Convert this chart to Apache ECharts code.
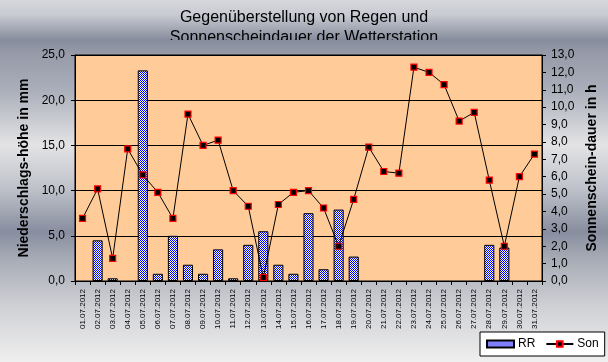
<!DOCTYPE html>
<html>
<head>
<meta charset="utf-8">
<script src="https://cdn.jsdelivr.net/npm/echarts@6/dist/echarts.min.js"></script>
<style>html,body{margin:0;padding:0;}#c{width:608px;height:362px;}</style>
</head>
<body>
<div id="c"></div>
<script>
const categories = ["01.07.2012","02.07.2012","03.07.2012","04.07.2012","05.07.2012","06.07.2012","07.07.2012","08.07.2012","09.07.2012","10.07.2012","11.07.2012","12.07.2012","13.07.2012","14.07.2012","15.07.2012","16.07.2012","17.07.2012","18.07.2012","19.07.2012","20.07.2012","21.07.2012","22.07.2012","23.07.2012","24.07.2012","25.07.2012","26.07.2012","27.07.2012","28.07.2012","29.07.2012","30.07.2012","31.07.2012"];
const rainMm = [0, 4.5, 0.3, 0, 23.3, 0.8, 5.0, 1.8, 0.8, 3.5, 0.3, 4.0, 5.5, 1.8, 0.8, 7.5, 1.3, 7.9, 2.7, 0, 0, 0, 0, 0, 0, 0, 0, 4.0, 3.7, 0, 0];
const sunHours = [3.6, 5.3, 1.3, 7.6, 6.1, 5.1, 3.6, 9.6, 7.8, 8.1, 5.2, 4.3, 0.2, 4.4, 5.1, 5.2, 4.2, 2.0, 4.7, 7.7, 6.3, 6.2, 12.3, 12.0, 11.3, 9.2, 9.7, 5.8, 2.0, 6.0, 7.3];
const seriesNames = ["RR", "Son"];
const titleLines = ["Gegenüberstellung von Regen und", "Sonnenscheindauer der Wetterstation"];
const leftAxisName = "Niederschlags-höhe in mm";
const rightAxisName = "Sonnenschein-dauer in h";

const bgStops = [
  {offset: 0.00, color: '#d6d7dc'},
  {offset: 0.04, color: '#c9cbd2'},
  {offset: 0.11, color: '#878d9d'},
  {offset: 0.15, color: '#979ba9'},
  {offset: 0.25, color: '#abafba'},
  {offset: 0.40, color: '#e3e3e5'},
  {offset: 0.52, color: '#bfc2ca'},
  {offset: 0.64, color: '#888e9f'},
  {offset: 0.72, color: '#a9adb7'},
  {offset: 0.85, color: '#d0d1d5'},
  {offset: 1.00, color: '#efefef'}
];

// checker pattern for bars
const pc = document.createElement('canvas');
pc.width = 2; pc.height = 2;
const pctx = pc.getContext('2d');
pctx.fillStyle = '#ffffff'; pctx.fillRect(0,0,2,2);
pctx.fillStyle = '#0000ff'; pctx.fillRect(0,0,1,1); pctx.fillRect(1,1,1,1);
const checker = {image: pc, repeat: 'repeat'};

const fmt = v => v.toFixed(1).replace('.', ',');

const chart = echarts.init(document.getElementById('c'), null, {renderer: 'canvas'});
chart.setOption({
  animation: false,
  title: {
    text: titleLines.join('\n'),
    left: 'center',
    top: 8,
    padding: 0,
    textStyle: {fontFamily: 'Liberation Sans, Arial', fontSize: 16, fontWeight: 'normal', color: '#000', lineHeight: 20}
  },
  graphic: [
    {type: 'rect', silent: true, z: -100, shape: {x: 0, y: 0, width: 608, height: 362},
     style: {fill: {type: 'linear', x: 0, y: 0, x2: 0, y2: 1, colorStops: bgStops}}},
    {type: 'rect', silent: true, z: 100, shape: {x: 0, y: 40, width: 608, height: 7},
     style: {fill: {type: 'linear', x: 0, y: 0, x2: 0, y2: 362, global: true, colorStops: bgStops}}}
  ],
  grid: {left: 75, right: 66, top: 55, bottom: 81, show: true, backgroundColor: '#ffcc99', borderColor: '#000', borderWidth: 1},
  legend: {
    left: 480, top: 332,
    padding: [6, 6],
    itemGap: 10,
    itemWidth: 27, itemHeight: 7,
    backgroundColor: '#fff', borderColor: '#000', borderWidth: 1, borderRadius: 0,
    textStyle: {fontFamily: 'Liberation Sans, Arial', fontSize: 12, color: '#000', padding: [0,0,0,-1]},
    data: [{name: seriesNames[0], icon: 'rect'}, {name: seriesNames[1]}]
  },
  xAxis: {
    type: 'category',
    data: categories,
    boundaryGap: true,
    axisLine: {lineStyle: {color: '#000', width: 1}},
    axisTick: {show: true, length: 4, interval: 0, lineStyle: {color: '#000'}},
    axisLabel: {rotate: 90, interval: 0, fontSize: 8, margin: 8, color: '#000', fontFamily: 'Liberation Sans, Arial'}
  },
  yAxis: [
    {
      type: 'value', min: 0, max: 25, interval: 5, position: 'left',
      name: leftAxisName, nameLocation: 'middle', nameGap: 38, nameRotate: 90,
      nameTextStyle: {fontFamily: 'Liberation Sans, Arial', fontSize: 14, fontWeight: 'bold', color: '#000'},
      axisLine: {show: true, lineStyle: {color: '#000'}},
      axisTick: {show: true, length: 4, lineStyle: {color: '#000'}},
      axisLabel: {formatter: fmt, margin: 10, fontSize: 12, color: '#000', fontFamily: 'Liberation Sans, Arial'},
      splitLine: {show: true, lineStyle: {color: '#000', width: 1}}
    },
    {
      type: 'value', min: 0, max: 13, interval: 1, position: 'right',
      name: rightAxisName, nameLocation: 'middle', nameGap: 38, nameRotate: 90,
      nameTextStyle: {fontFamily: 'Liberation Sans, Arial', fontSize: 14, fontWeight: 'bold', color: '#000'},
      axisLine: {show: true, lineStyle: {color: '#000'}},
      axisTick: {show: true, length: 4, lineStyle: {color: '#000'}},
      axisLabel: {formatter: fmt, margin: 9, fontSize: 12, color: '#000', fontFamily: 'Liberation Sans, Arial'},
      splitLine: {show: false}
    }
  ],
  series: [
    {
      name: seriesNames[0], type: 'bar', yAxisIndex: 0,
      data: rainMm.map(v => (v === 0 ? null : v)),
      barCategoryGap: '33%',
      itemStyle: {color: checker, borderColor: '#000', borderWidth: 1}
    },
    {
      name: seriesNames[1], type: 'line', yAxisIndex: 1, data: sunHours,
      symbol: 'rect', symbolSize: 6, showAllSymbol: true,
      lineStyle: {color: '#000', width: 1},
      itemStyle: {color: '#000', borderColor: '#ff0000', borderWidth: 1.2},
      z: 5
    }
  ]
});
</script>
</body>
</html>
